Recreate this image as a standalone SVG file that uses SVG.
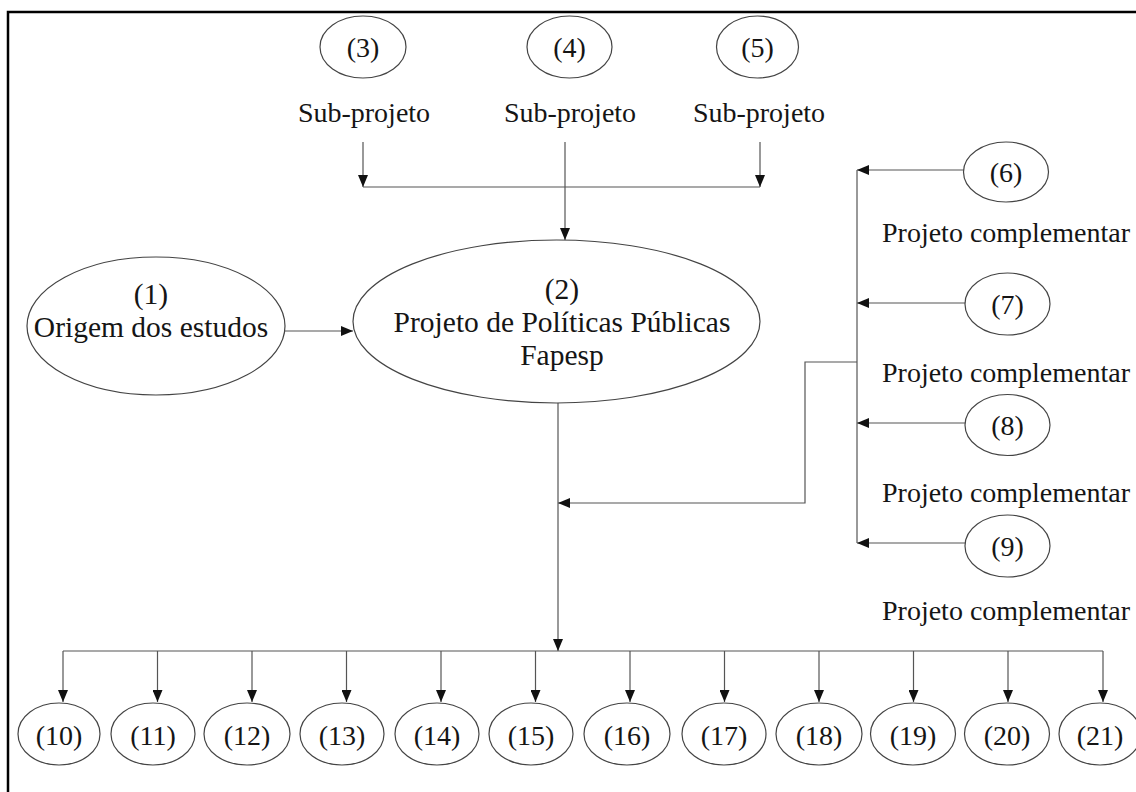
<svg xmlns="http://www.w3.org/2000/svg" width="1136" height="792" viewBox="0 0 1136 792">
  <defs>
    <marker id="arrow" viewBox="0 0 12 10" refX="12" refY="5" markerWidth="12" markerHeight="10" markerUnits="userSpaceOnUse" orient="auto">
      <path d="M0,0 L12,5 L0,10 z" fill="#111"/>
    </marker>
    <style>
      .node { fill: #fff; stroke: #444; stroke-width: 1.2; }
      text { font-family: "Liberation Serif", "Times New Roman", serif; fill: #151515; }
      .t { font-size: 28px; text-anchor: middle; }
      .big { font-size: 29.5px; text-anchor: middle; }
      .lbl { font-size: 28px; }
      .wire { fill: none; stroke: #555; stroke-width: 1.2; }
      .arr { fill: none; stroke: #555; stroke-width: 1.2; marker-end: url(#arrow); }
    </style>
  </defs>

  <rect x="0" y="0" width="1136" height="792" fill="#fff"/>
  <!-- frame (open on the right and bottom) -->
  <rect x="8" y="12" width="1200" height="800" fill="none" stroke="#000" stroke-width="2.5"/>

  <!-- connectors -->
  <g id="connectors">
    <!-- sub-projects into the main project -->
    <line class="arr" x1="363" y1="142" x2="363" y2="187"/>
    <line class="arr" x1="760" y1="142" x2="760" y2="187"/>
    <line class="wire" x1="363" y1="187" x2="760" y2="187"/>
    <line class="arr" x1="565" y1="142" x2="565" y2="240"/>
    <!-- origin into the main project -->
    <line class="arr" x1="285" y1="331" x2="353" y2="331"/>
    <!-- complementary projects -->
    <line class="arr" x1="964" y1="170" x2="857" y2="170"/>
    <line class="arr" x1="966" y1="303" x2="857" y2="303"/>
    <line class="arr" x1="966" y1="423" x2="857" y2="423"/>
    <line class="arr" x1="966" y1="543" x2="857" y2="543"/>
    <line class="wire" x1="857" y1="170" x2="857" y2="543"/>
    <polyline class="arr" points="857,362 805,362 805,503 558,503"/>
    <!-- main trunk down to the results row -->
    <line class="arr" x1="558" y1="403" x2="558" y2="651"/>
    <line class="wire" x1="63" y1="651" x2="1103" y2="651"/>
    <line class="arr" x1="63" y1="651" x2="63" y2="702"/>
    <line class="arr" x1="157.5" y1="651" x2="157.5" y2="702"/>
    <line class="arr" x1="252" y1="651" x2="252" y2="702"/>
    <line class="arr" x1="346.5" y1="651" x2="346.5" y2="702"/>
    <line class="arr" x1="441" y1="651" x2="441" y2="702"/>
    <line class="arr" x1="535.5" y1="651" x2="535.5" y2="702"/>
    <line class="arr" x1="630" y1="651" x2="630" y2="702"/>
    <line class="arr" x1="724.5" y1="651" x2="724.5" y2="702"/>
    <line class="arr" x1="819" y1="651" x2="819" y2="702"/>
    <line class="arr" x1="913.5" y1="651" x2="913.5" y2="702"/>
    <line class="arr" x1="1008" y1="651" x2="1008" y2="702"/>
    <line class="arr" x1="1103" y1="651" x2="1103" y2="702"/>
  </g>

  <!-- main nodes -->
  <g id="n1">
    <ellipse class="node" cx="156" cy="326" rx="129" ry="69"/>
    <text class="big" x="151" y="304">(1)<tspan x="151" dy="33">Origem dos estudos</tspan></text>
  </g>
  <g id="n2">
    <ellipse class="node" cx="556.5" cy="321.5" rx="203.5" ry="81.5"/>
    <text class="big" x="562" y="299">(2)<tspan x="562" dy="33">Projeto de Políticas Públicas</tspan><tspan x="562" dy="33">Fapesp</tspan></text>
  </g>

  <!-- sub-projects -->
  <g id="n3">
    <ellipse class="node" cx="363" cy="47" rx="43" ry="31"/>
    <text class="t" x="363" y="57">(3)</text>
    <text class="t" x="364" y="122">Sub-projeto</text>
  </g>
  <g id="n4">
    <ellipse class="node" cx="569.5" cy="47" rx="42.5" ry="31"/>
    <text class="t" x="569.5" y="57">(4)</text>
    <text class="t" x="570" y="122">Sub-projeto</text>
  </g>
  <g id="n5">
    <ellipse class="node" cx="757.5" cy="47" rx="41" ry="31"/>
    <text class="t" x="757.5" y="57">(5)</text>
    <text class="t" x="759" y="122">Sub-projeto</text>
  </g>

  <!-- complementary projects -->
  <g id="n6">
    <ellipse class="node" cx="1006" cy="172" rx="42.5" ry="30"/>
    <text class="t" x="1006" y="182">(6)</text>
    <text class="lbl" x="882" y="242">Projeto complementar</text>
  </g>
  <g id="n7">
    <ellipse class="node" cx="1007.5" cy="304" rx="42.5" ry="31"/>
    <text class="t" x="1007.5" y="314">(7)</text>
    <text class="lbl" x="882" y="382">Projeto complementar</text>
  </g>
  <g id="n8">
    <ellipse class="node" cx="1007.5" cy="425" rx="42.5" ry="30.5"/>
    <text class="t" x="1007.5" y="435">(8)</text>
    <text class="lbl" x="882" y="502">Projeto complementar</text>
  </g>
  <g id="n9">
    <ellipse class="node" cx="1007.5" cy="546" rx="42.5" ry="31"/>
    <text class="t" x="1007.5" y="556">(9)</text>
    <text class="lbl" x="882" y="620">Projeto complementar</text>
  </g>

  <!-- results row -->
  <g id="n10"><ellipse class="node" cx="59" cy="734" rx="41" ry="31"/><text class="t" x="59" y="745">(10)</text></g>
  <g id="n11"><ellipse class="node" cx="153" cy="734" rx="42" ry="31"/><text class="t" x="153" y="745">(11)</text></g>
  <g id="n12"><ellipse class="node" cx="247" cy="734" rx="43" ry="31"/><text class="t" x="247" y="745">(12)</text></g>
  <g id="n13"><ellipse class="node" cx="342" cy="734" rx="42" ry="31"/><text class="t" x="342" y="745">(13)</text></g>
  <g id="n14"><ellipse class="node" cx="437" cy="734" rx="42" ry="31"/><text class="t" x="437" y="745">(14)</text></g>
  <g id="n15"><ellipse class="node" cx="531" cy="734" rx="42" ry="31"/><text class="t" x="531" y="745">(15)</text></g>
  <g id="n16"><ellipse class="node" cx="627" cy="734" rx="43" ry="31"/><text class="t" x="627" y="745">(16)</text></g>
  <g id="n17"><ellipse class="node" cx="724" cy="734" rx="42" ry="31"/><text class="t" x="724" y="745">(17)</text></g>
  <g id="n18"><ellipse class="node" cx="819" cy="734" rx="43" ry="31"/><text class="t" x="819" y="745">(18)</text></g>
  <g id="n19"><ellipse class="node" cx="913" cy="734" rx="42.5" ry="31"/><text class="t" x="913" y="745">(19)</text></g>
  <g id="n20"><ellipse class="node" cx="1007" cy="734" rx="42.5" ry="31"/><text class="t" x="1007" y="745">(20)</text></g>
  <g id="n21"><ellipse class="node" cx="1100" cy="734" rx="41" ry="31"/><text class="t" x="1100" y="745">(21)</text></g>
</svg>
